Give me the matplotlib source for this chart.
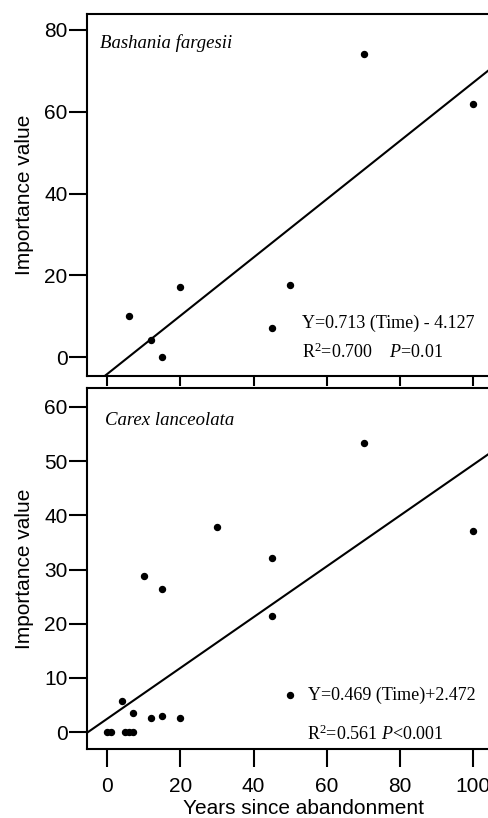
import numpy as np
import matplotlib
matplotlib.use('Agg')
import matplotlib.pyplot as plt

plt.rcParams['font.family'] = ['Liberation Sans', 'DejaVu Sans']
plt.rcParams['mathtext.fontset'] = 'custom'
plt.rcParams['mathtext.rm'] = 'Liberation Serif'
plt.rcParams['mathtext.it'] = 'Liberation Serif:italic'

# Date - Bashania fargesii
bash_years = [6, 12, 15, 20, 45, 50, 70, 100]
bash_iv = [10.1, 4.2, 0.0, 17.2, 7.2, 17.7, 74.2, 62.0]
bash_slope, bash_inter = 0.713, -4.127

# Date - Carex lanceolata
carex_years = [0, 1, 4, 5, 6, 7, 7, 10, 12, 15, 15, 20, 30, 45, 45, 50, 70, 100]
carex_iv = [0, 0, 5.8, 0, 0, 0, 3.6, 28.8, 2.7, 26.5, 2.9, 2.7, 37.8, 32.2, 21.5, 6.8, 53.4, 37.1]
carex_slope, carex_inter = 0.469, 2.472

W, H = 489, 818
fig = plt.figure(figsize=(W / 100, H / 100), dpi=100)


def box(l, t, r, b):
    return [l / W, 1 - b / H, (r - l) / W, (b - t) / H]


ax1 = fig.add_axes(box(87, 14, 521, 376))
ax2 = fig.add_axes(box(87, 388, 521, 749))

serif = 'Liberation Serif'


def style(ax, ylim, yticks, show_x):
    ax.set_xlim(-5.5, 113)
    ax.set_ylim(*ylim)
    ax.set_yticks(yticks)
    ax.set_xticks([0, 20, 40, 60, 80, 100])
    for s in ax.spines.values():
        s.set_linewidth(1.5)
    ax.tick_params(direction='out', length=13, width=1.5, labelsize=15)
    ax.tick_params(axis='y', pad=1)
    ax.tick_params(axis='x', pad=7)
    if not show_x:
        ax.tick_params(axis='x', labelbottom=False, length=7)
    ax.set_ylabel('Importance value', fontsize=15, labelpad=7)


# Grafic 1
xs = np.array([-5.5, 113])
ax1.plot(bash_years, bash_iv, 'o', color='black', ms=4.3)
ax1.plot(xs, bash_slope * xs + bash_inter, '-', color='black', lw=1.5)
style(ax1, (-4.6, 83.9), [0, 20, 40, 60, 80], False)
ax1.text(0.030, 0.920, 'Bashania fargesii', transform=ax1.transAxes, family=serif,
         style='italic', fontsize=13.5, va='center')
ax1.text(0.495, 0.146, 'Y=0.713 (Time) - 4.127', transform=ax1.transAxes, family=serif,
         fontsize=13, va='center')
ax1.text(0.495, 0.066, 'R$^2$=0.700    $P$=0.01', transform=ax1.transAxes, family=serif,
         fontsize=13, va='center')

# Grafic 2
ax2.plot(carex_years, carex_iv, 'o', color='black', ms=4.3)
ax2.plot(xs, carex_slope * xs + carex_inter, '-', color='black', lw=1.5)
style(ax2, (-3.1, 63.5), [0, 10, 20, 30, 40, 50, 60], True)
ax2.set_xlabel('Years since abandonment', fontsize=15, labelpad=2)
ax2.text(0.041, 0.909, 'Carex lanceolata', transform=ax2.transAxes, family=serif,
         style='italic', fontsize=13.5, va='center')
ax2.text(0.509, 0.150, 'Y=0.469 (Time)+2.472', transform=ax2.transAxes, family=serif,
         fontsize=13, va='center')
ax2.text(0.507, 0.042, 'R$^2$=0.561 $P$<0.001', transform=ax2.transAxes, family=serif,
         fontsize=13, va='center')

fig.savefig('out.png', dpi=100)
